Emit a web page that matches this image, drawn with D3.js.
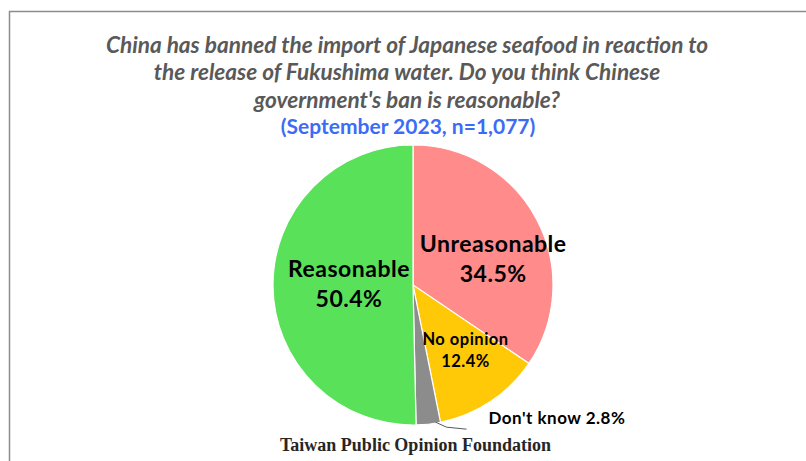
<!DOCTYPE html>
<html>
<head>
<meta charset="utf-8">
<script src="https://cdn.jsdelivr.net/npm/d3@7"></script>
<style>
  body { margin: 0; background: #fff; }
  svg { display: block; }
</style>
</head>
<body>
<div id="chart"></div>
<script>
// chart data
const categories = ["Unreasonable", "No opinion", "Don't know", "Reasonable"];
const shares = [34.5, 12.4, 2.8, 50.4];
const titleLines = [
    "China has banned the import of Japanese seafood in reaction to",
    "the release of Fukushima water. Do you think Chinese",
    "government's ban is reasonable?"
];
const subtitle = "(September 2023, n=1,077)";
const source = "Taiwan Public Opinion Foundation";

const colors = ["#ff8b8b", "#ffc907", "#8c8c8c", "#5ae15a"];

let frame = { width: 806, height: 461 },
    center = { x: 413, y: 285 },
    radius = 140;

let svg = d3.select("#chart").append("svg")
    .attr("width", frame.width)
    .attr("height", frame.height);

// outer border (top + left)
svg.append("path")
    .attr("d", "M9.5,470 V11.5 H820")
    .attr("fill", "none")
    .attr("stroke", "#8c8c8c")
    .attr("stroke-width", 1.5);

// title
let title = svg.append("g")
    .attr("font-family", "Lato, 'Open Sans', sans-serif")
    .attr("font-style", "italic")
    .attr("font-weight", "bold")
    .attr("font-size", "22.6px")
    .attr("fill", "#595959")
    .attr("text-anchor", "middle");

titleLines.forEach(function (line, i) {
    title.append("text")
        .attr("x", 407)
        .attr("y", 52.5 + i * 27.5)
        .text(line);
});

svg.append("text")
    .attr("x", 408)
    .attr("y", 133.5)
    .attr("text-anchor", "middle")
    .attr("font-family", "Lato, 'Open Sans', sans-serif")
    .attr("font-weight", "bold")
    .attr("font-size", "21px")
    .attr("fill", "#3c6cf5")
    .text(subtitle);

// pie
let pie = d3.pie().sort(null).value(function (d) { return d; });
let arcs = pie(shares);

let arc = d3.arc().innerRadius(0).outerRadius(radius);
let labelArc = d3.arc().innerRadius(radius * 0.6).outerRadius(radius * 0.6);

let g = svg.append("g")
    .attr("transform", "translate(" + center.x + "," + center.y + ")");

g.selectAll("path.slice")
    .data(arcs)
    .enter().append("path")
    .attr("class", "slice")
    .attr("d", arc)
    .attr("fill", function (d, i) { return colors[i]; })
    .attr("stroke", "#fff")
    .attr("stroke-width", 1.2);

// label styles: nudges relative to centroid, font size, line gap
let labelStyle = [
    { dx: 6, dy: 6, size: 23, gap: 30, ls: 0.5 },
    { dx: 6, dy: -10, size: 16.5, gap: 22, ls: 0.5 },
    null,
    { dx: 20, dy: -8.5, size: 23, gap: 30, ls: 0.5 }
];

arcs.forEach(function (d, i) {
    let st = labelStyle[i];
    if (!st) return;
    let c = labelArc.centroid(d);
    let t = g.append("text")
        .attr("text-anchor", "middle")
        .attr("font-family", "Lato, 'Open Sans', sans-serif")
        .attr("font-weight", "bold")
        .attr("font-size", st.size + "px")
        .attr("letter-spacing", st.ls)
        .attr("fill", "#000");
    t.append("tspan")
        .attr("x", c[0] + st.dx)
        .attr("y", c[1] + st.dy)
        .text(categories[i]);
    t.append("tspan")
        .attr("x", c[0] + st.dx)
        .attr("y", c[1] + st.dy + st.gap)
        .text(shares[i].toFixed(1) + "%");
});

// Don't know: outside label with leader line
let dk = arcs[2];
let a0 = dk.startAngle + 0.2 * (dk.endAngle - dk.startAngle);
let p0 = [Math.sin(a0) * (radius - 1), -Math.cos(a0) * (radius - 1)];
let p1 = [p0[0] + 11, p0[1] + 5];
let p2 = [p1[0] + 20, p1[1] + 2];
g.append("polyline")
    .attr("points", [p0, p1, p2].map(function (p) { return p.join(","); }).join(" "))
    .attr("fill", "none")
    .attr("stroke", "#595959")
    .attr("stroke-width", 1);

g.append("text")
    .attr("x", p2[0] + 22)
    .attr("y", p2[1] - 5)
    .attr("font-family", "Lato, 'Open Sans', sans-serif")
    .attr("font-weight", "bold")
    .attr("font-size", "17px")
    .attr("letter-spacing", 0.5)
    .attr("fill", "#000")
    .text(categories[2] + " " + shares[2].toFixed(1) + "%");

// source
svg.append("text")
    .attr("x", 280)
    .attr("y", 451)
    .attr("font-family", "'Liberation Serif', 'DejaVu Serif', serif")
    .attr("font-weight", "bold")
    .attr("font-size", "18px")
    .attr("fill", "#262626")
    .text(source);
</script>
</body>
</html>
